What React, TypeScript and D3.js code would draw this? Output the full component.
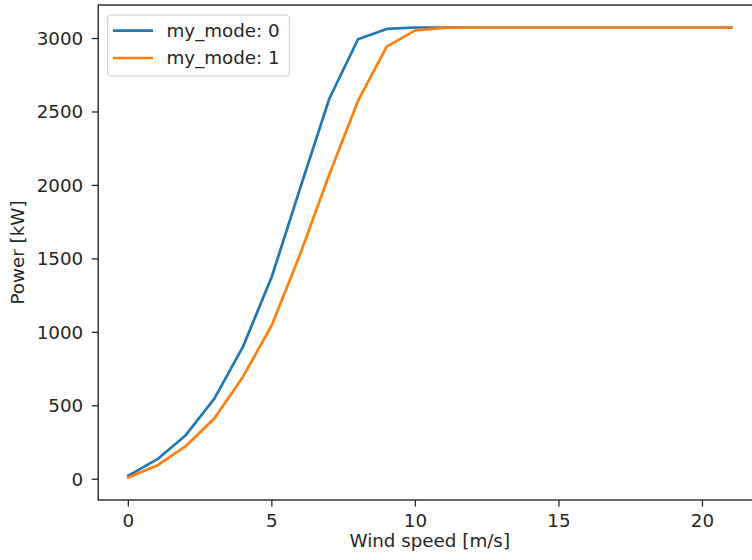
import React from "react";
import * as d3 from "d3";

const windSpeeds = [0, 1, 2, 3, 4, 5, 6, 7, 8, 9, 10, 11, 12, 13, 14, 15, 16, 17, 18, 19, 20, 21];
const mode0Power = [25, 135, 300, 550, 905, 1380, 1990, 2590, 2995, 3065, 3075, 3075, 3075, 3075, 3075, 3075, 3075, 3075, 3075, 3075, 3075, 3075];
const mode1Power = [12, 93, 225, 415, 700, 1050, 1540, 2075, 2575, 2945, 3055, 3072, 3075, 3075, 3075, 3075, 3075, 3075, 3075, 3075, 3075, 3075];
const seriesNames = ["my_mode: 0", "my_mode: 1"];
const seriesColors = ["#1f77b4", "#ff7f0e"];
const xTicks = [0, 5, 10, 15, 20];
const yTicks = [0, 500, 1000, 1500, 2000, 2500, 3000];

const W = 752;
const H = 560;
const left = 98.2;
const right = 761.3;
const top = 5;
const bottom = 500;
const FS = 18.3;
const FONT = "DejaVu Sans, sans-serif";
const TEXT = "#262626";

export default function App() {
  const xMin = d3.min(windSpeeds)!;
  const xMax = d3.max(windSpeeds)!;
  const xPad = (xMax - xMin) * 0.05;
  const all = [...mode0Power, ...mode1Power];
  const yMin = d3.min(all)!;
  const yMax = d3.max(all)!;
  const yPad = (yMax - yMin) * 0.05;

  const x = d3.scaleLinear().domain([xMin - xPad, xMax + xPad]).range([left, right]);
  const y = d3.scaleLinear().domain([yMin - yPad, yMax + yPad]).range([bottom, top]);

  const series = [mode0Power, mode1Power];
  const line = d3
    .line<number>()
    .x((_, i) => x(windSpeeds[i]))
    .y((d) => y(d));

  return (
    <svg
      width={W}
      height={H}
      style={{ position: "absolute", left: 0, top: 0, background: "#fff" }}
      fontFamily={FONT}
    >
      <rect x={0} y={0} width={W} height={H} fill="#fff" />
      {series.map((s, i) => (
        <path
          key={i}
          d={line(s) || ""}
          fill="none"
          stroke={seriesColors[i]}
          strokeWidth={2.7}
          strokeLinejoin="round"
          strokeLinecap="square"
        />
      ))}
      {/* spines */}
      <rect
        x={left}
        y={top}
        width={right - left}
        height={bottom - top}
        fill="none"
        stroke="#262626"
        strokeWidth={1.4}
      />
      {/* x ticks */}
      {xTicks.map((t) => (
        <g key={t} transform={`translate(${x(t)},0)`}>
          <line y1={bottom} y2={bottom + 6.5} stroke="#262626" strokeWidth={1.3} />
          <text y={bottom + 26.5} textAnchor="middle" fontSize={FS} fill={TEXT}>
            {t}
          </text>
        </g>
      ))}
      {/* y ticks */}
      {yTicks.map((t) => (
        <g key={t} transform={`translate(0,${y(t)})`}>
          <line x1={left - 6.5} x2={left} stroke="#262626" strokeWidth={1.3} />
          <text x={left - 15} dy="0.35em" textAnchor="end" fontSize={FS} fill={TEXT}>
            {t}
          </text>
        </g>
      ))}
      <text x={(left + right) / 2} y={H - 13} textAnchor="middle" fontSize={FS} fill={TEXT}>
        Wind speed [m/s]
      </text>
      <text
        transform={`translate(24,${(top + bottom) / 2}) rotate(-90)`}
        textAnchor="middle"
        fontSize={FS}
        fill={TEXT}
      >
        Power [kW]
      </text>
      {/* legend */}
      <g>
        <rect
          x={107.7}
          y={15}
          width={181.6}
          height={61}
          rx={3}
          fill="#fff"
          fillOpacity={0.8}
          stroke="#cccccc"
          strokeWidth={1}
        />
        {seriesNames.map((n, i) => (
          <g key={n} transform={`translate(0,${30.7 + i * 27.3})`}>
            <line x1={113} x2={153} stroke={seriesColors[i]} strokeWidth={2.7} />
            <text x={166.5} dy="0.35em" fontSize={FS} fill={TEXT}>
              {n}
            </text>
          </g>
        ))}
      </g>
    </svg>
  );
}
